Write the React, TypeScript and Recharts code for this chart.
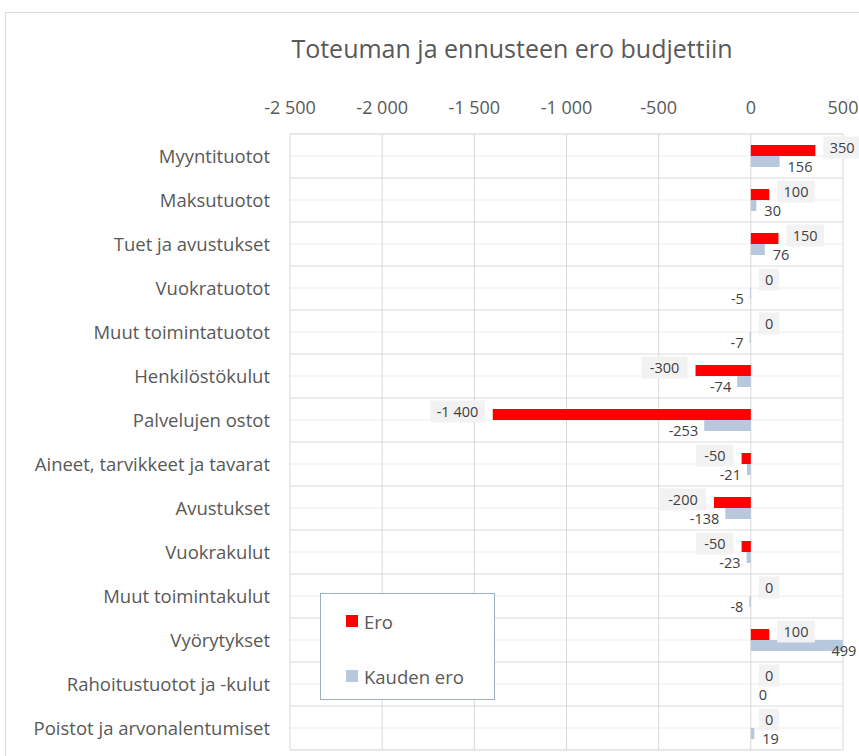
import { Bar, BarChart, CartesianGrid, LabelList, Legend, XAxis, YAxis } from "recharts"

const categories = [
  "Myyntituotot",
  "Maksutuotot",
  "Tuet ja avustukset",
  "Vuokratuotot",
  "Muut toimintatuotot",
  "Henkilöstökulut",
  "Palvelujen ostot",
  "Aineet, tarvikkeet ja tavarat",
  "Avustukset",
  "Vuokrakulut",
  "Muut toimintakulut",
  "Vyörytykset",
  "Rahoitustuotot ja -kulut",
  "Poistot ja arvonalentumiset",
]

const ero = [350, 100, 150, 0, 0, -300, -1400, -50, -200, -50, 0, 100, 0, 0]
const kaudenEro = [156, 30, 76, -5, -7, -74, -253, -21, -138, -23, -8, 499, 0, 19]

const xTicks = [-2500, -2000, -1500, -1000, -500, 0, 500]

const data = categories.map((name, i) => ({ name, ero: ero[i], kausi: kaudenEro[i] }))

const FONT = "'Open Sans', sans-serif"
const TEXT = "#595959"
const CHART_W = 859

function fmt(n: number) {
  const s = Math.abs(n)
    .toString()
    .replace(/\B(?=(\d{3})+(?!\d))/g, " ")
  return (n < 0 ? "-" : "") + s
}

function barEnds(props: any) {
  const x = Number(props.x)
  const w = Number(props.width)
  return { left: Math.min(x, x + w), right: Math.max(x, x + w) }
}

// zero bars get a hair-thin size so their labels still show
const tinyForZero = (v: any) => (Number(v) === 0 ? 0.01 : 0)

const EroLabel = (props: any) => {
  const { y, height, value } = props
  const { left, right } = barEnds(props)
  const text = fmt(value)
  const w = text.replace(/ /g, "").length * 8.5 + 12
  const h = 22
  const cy = Number(y) + Number(height) / 2 - 3
  const bx = value >= 0 ? right + 8 : left - 8 - w
  return (
    <g>
      <rect x={bx} y={cy - h / 2} width={w} height={h} fill="#F2F2F2" />
      <text
        x={bx + w / 2}
        y={cy}
        dy="0.35em"
        textAnchor="middle"
        fontFamily={FONT}
        fontSize={14.5}
        fill="#404040"
      >
        {text}
      </text>
    </g>
  )
}

const KausiLabel = (props: any) => {
  const { y, height, value } = props
  const { left, right } = barEnds(props)
  const cy = Number(y) + Number(height) / 2 + 5
  const pos = value >= 0
  const text = fmt(value)
  const tw = text.length * 8.5
  const x = pos ? Math.min(right + 8, CHART_W - tw - 2) : left - 6
  return (
    <text
      x={x}
      y={cy}
      dy="0.35em"
      textAnchor={pos ? "start" : "end"}
      fontFamily={FONT}
      fontSize={14.5}
      fill="#404040"
    >
      {text}
    </text>
  )
}

const LegendBox = (props: any) => {
  const items = props.payload || []
  return (
    <div
      style={{
        width: 175,
        height: 107,
        border: "1px solid #9BAFC3",
        background: "#fff",
        boxSizing: "border-box",
        paddingTop: 14,
        paddingLeft: 25,
        fontFamily: FONT,
        fontSize: 18.5,
        color: TEXT,
      }}
    >
      {items.map((it: any, i: number) => (
        <div key={i} style={{ display: "flex", alignItems: "center", height: 26, marginBottom: i === 0 ? 29 : 0 }}>
          <span style={{ width: 12, height: 12, background: it.color, marginRight: 6, display: "inline-block" }} />
          <span>{it.value}</span>
        </div>
      ))}
    </div>
  )
}

export default function App() {
  return (
    <div style={{ position: "absolute", left: 0, top: 0, width: 859, height: 756, overflow: "hidden", background: "#fff" }}>
      <div
        style={{
          position: "absolute",
          left: 5,
          top: 12,
          width: 1000,
          height: 900,
          border: "1px solid #D9D9D9",
        }}
      />
      <div
        style={{
          position: "absolute",
          left: 512,
          top: 31,
          transform: "translateX(-50%)",
          whiteSpace: "nowrap",
          fontFamily: FONT,
          fontSize: 25,
          color: TEXT,
        }}
      >
        Toteuman ja ennusteen ero budjettiin
      </div>
      <div style={{ position: "absolute", left: 0, top: 0 }}>
        <BarChart
          width={CHART_W}
          height={756}
          data={data}
          layout="vertical"
          margin={{ top: 104, right: 16, bottom: 6, left: 10 }}
          barCategoryGap={11}
          barGap={0}
          style={{ overflow: "visible" }}
        >
          <CartesianGrid stroke="#EBEBEB" vertical={false} />
          <CartesianGrid
            stroke="#D9D9D9"
            horizontalCoordinatesGenerator={({ offset }: any) =>
              categories.map((_, i) => offset.top + (offset.height * i) / categories.length).concat(offset.top + offset.height)
            }
          />
          <XAxis
            type="number"
            orientation="top"
            domain={[-2500, 500]}
            ticks={xTicks}
            tickFormatter={fmt}
            axisLine={false}
            tickLine={false}
            tickSize={0}
            tickMargin={20}
            height={30}
            tick={{ fill: TEXT, fontSize: 18, fontFamily: FONT }}
          />
          <YAxis
            type="category"
            dataKey="name"
            width={280}
            axisLine={false}
            tickLine={false}
            tickSize={0}
            tickMargin={20}
            interval={0}
            tick={{ fill: TEXT, fontSize: 18.5, fontFamily: FONT }}
          />
          <Legend
            layout="vertical"
            align="center"
            verticalAlign="middle"
            content={<LegendBox />}
            wrapperStyle={{ left: 320, top: 593, width: 175 }}
          />
          <Bar dataKey="ero" name="Ero" fill="#FF0000" minPointSize={tinyForZero} isAnimationActive={false}>
            <LabelList dataKey="ero" content={<EroLabel />} />
          </Bar>
          <Bar dataKey="kausi" name="Kauden ero" fill="#B7C8DC" minPointSize={tinyForZero} isAnimationActive={false}>
            <LabelList dataKey="kausi" content={<KausiLabel />} />
          </Bar>
        </BarChart>
      </div>
    </div>
  )
}
